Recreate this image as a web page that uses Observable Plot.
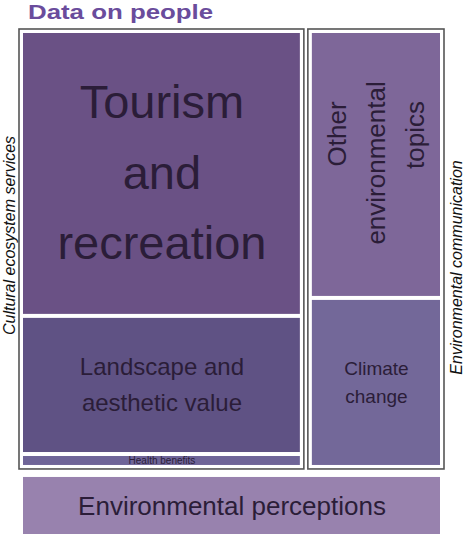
<!DOCTYPE html>
<html><head><meta charset="utf-8">
<script src="https://cdn.jsdelivr.net/npm/d3@7"></script>
<script src="https://cdn.jsdelivr.net/npm/@observablehq/plot@0.6"></script>
<style>
html,body{margin:0;padding:0;background:#fff;overflow:hidden;}
#title{height:26px;line-height:18px;font:bold 21px "Liberation Sans",Arial,sans-serif;color:#6a4c9c;padding-left:28px;white-space:nowrap;}
#title span{display:inline-block;transform:scaleX(1.23);transform-origin:left center;}
</style></head><body>
<div id="title"><span>Data on people</span></div>
<div id="chart"></div>
<script>
// ---- data ----
const groups = ["Cultural ecosystem services", "Environmental communication"];
const topics = ["Tourism and recreation", "Landscape and aesthetic value", "Health benefits", "Other environmental topics", "Climate change"];
const topicGroup = ["Cultural ecosystem services", "Cultural ecosystem services", "Cultural ecosystem services", "Environmental communication", "Environmental communication"];
const topicCounts = [66, 32, 3, 30, 19];
const topicLabels = ["Tourism\nand\nrecreation", "Landscape and\naesthetic value", "Health benefits", "Other\nenvironmental\ntopics", "Climate\nchange"];
const standaloneTopic = "Environmental perceptions";
const standaloneCount = 24;

// ---- styles ----
const fills = ["#6a5185", "#5f5284", "#6f6598", "#7e6799", "#736899", "#9882ae"];
const labelSize = {"Tourism and recreation": 47, "Landscape and aesthetic value": 24, "Health benefits": 10, "Other environmental topics": 26, "Climate change": 19, "Environmental perceptions": 26};
const labelRotate = {"Other environmental topics": -90};
const lineSpacing = 1.5;               // in em
const lineShift = {"Other": 31, "environmental": 2, "topics": 30}; // px toward text end

// ---- layout (slice-and-dice treemap in value units) ----
const width = 465, height = 508;
const xRange = [17, 446], yRange = [1, 516];
const topTotal = d3.sum(topicCounts);
const yTotal = topTotal + standaloneCount;
const kx = (xRange[1] - xRange[0]) / topTotal;
const ky = (yRange[1] - yRange[0]) / yTotal;
const pad = 4;

let gx = 0;
const groupRows = groups.map(g => {
  const idx = topics.map((t, i) => i).filter(i => topicGroup[i] === g);
  const total = d3.sum(idx, i => topicCounts[i]);
  const row = {group: g, idx, total, x1: gx, x2: gx + total, y1: 0, y2: topTotal};
  gx += total;
  return row;
});
const tiles = [];
for (const g of groupRows) {
  const ix1 = g.x1 + pad / kx, ix2 = g.x2 - pad / kx;
  const iy1 = g.y1 + pad / ky, iy2 = g.y2 - pad / ky;
  let acc = 0;
  for (const i of g.idx) {
    const y1 = iy1 + (iy2 - iy1) * acc / g.total;
    acc += topicCounts[i];
    const y2 = iy1 + (iy2 - iy1) * acc / g.total;
    tiles.push({topic: topics[i], label: topicLabels[i], x1: ix1, x2: ix2, y1, y2});
  }
}
tiles.push({topic: standaloneTopic, label: standaloneTopic, x1: pad / kx, x2: topTotal - pad / kx, y1: topTotal + pad / ky, y2: yTotal - pad / ky});

// one datum per label line, placed around the tile centre
const lines = [];
for (const t of tiles) {
  const parts = t.label.split("\n");
  const n = parts.length;
  const size = labelSize[t.topic];
  const rot = labelRotate[t.topic] || 0;
  const cx = (t.x1 + t.x2) / 2, cy = (t.y1 + t.y2) / 2;
  parts.forEach((text, j) => {
    const off = (j - (n - 1) / 2) * lineSpacing * size;
    const along = lineShift[text] || 0;
    const ox = rot ? off : 0;
    const oy = rot ? -along : off;
    lines.push({text, size, rot, x: cx + ox / kx, y: cy + oy / ky});
  });
}

const chart = Plot.plot({
  width, height,
  margin: 0,
  style: {fontFamily: '"Liberation Sans", Arial, Helvetica, sans-serif', background: "white"},
  x: {domain: [0, topTotal], range: xRange, axis: null},
  y: {domain: [0, yTotal], range: yRange, axis: null},
  color: {type: "ordinal", domain: [...topics, standaloneTopic], range: fills},
  marks: [
    Plot.rect(groupRows, {x1: "x1", x2: "x2", y1: "y1", y2: "y2", inset: 2, fill: "white", stroke: "#555", strokeWidth: 1.6}),
    Plot.rect(tiles, {x1: "x1", x2: "x2", y1: "y1", y2: "y2", inset: 2, fill: "topic"}),
    Plot.text(lines, {
      x: "x", y: "y", text: "text", fontSize: "size", rotate: "rot",
      fill: "#2b1d38", textAnchor: "middle", lineAnchor: "middle"
    }),
    Plot.text(groupRows.slice(0, 1), {
      x: "x1", y: d => (d.y1 + d.y2) / 2, text: "group", rotate: -90, fontSize: 16,
      fontStyle: "italic", fill: "#111", textAnchor: "middle", lineAnchor: "bottom", dx: -3, dy: -14
    }),
    Plot.text(groupRows.slice(1, 2), {
      x: "x2", y: d => (d.y1 + d.y2) / 2, text: "group", rotate: -90, fontSize: 16,
      fontStyle: "italic", fill: "#111", textAnchor: "middle", lineAnchor: "bottom", dx: 15.5, dy: 18
    })
  ]
});
document.getElementById("chart").appendChild(chart);
</script>
</body></html>
